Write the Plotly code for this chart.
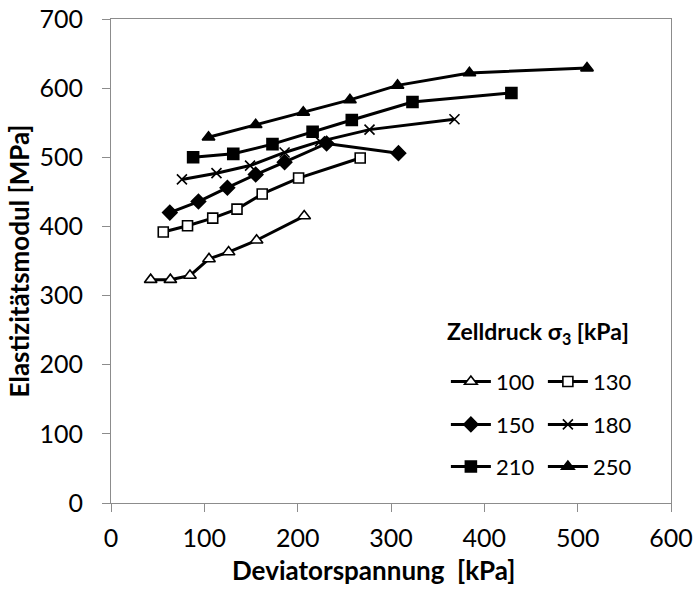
import plotly.graph_objects as go

# Deviator stress [kPa] and elastic modulus [MPa] per cell pressure
dev_100 = [42.5, 63.6, 84.6, 105, 126, 156, 207]
e_100 = [323, 323, 329, 353, 363, 380, 415]

dev_130 = [56, 82, 109, 135, 162, 201, 267]
e_130 = [392, 401, 412, 425, 447, 470, 499]

dev_150 = [63, 93.7, 124.7, 155, 186, 231, 308]
e_150 = [420, 436, 456, 475, 493, 520, 506]

dev_180 = [76, 113, 149, 186, 224, 277, 368]
e_180 = [468, 477, 488, 507, 523, 540, 555]

dev_210 = [88, 131, 173, 216, 258, 323, 429]
e_210 = [500, 505, 519, 537, 554, 580, 593]

dev_250 = [104.5, 155, 206, 256, 307, 384, 510]
e_250 = [529, 547, 565, 583, 604, 622, 629]

cell_pressures = ["100", "130", "150", "180", "210", "250"]
x_ticks = [0, 100, 200, 300, 400, 500, 600]
y_ticks = [0, 100, 200, 300, 400, 500, 600, 700]

FONT = "Lato"
AXIS_GREY = "#8c8c8c"
TICK_SIZE = 25
TITLE_SIZE = 26
LEG_SIZE = 22

styles = [
    (dev_100, e_100, "triangle-up", "white", 11, "legend"),
    (dev_130, e_130, "square", "white", 10, "legend"),
    (dev_150, e_150, "diamond", "black", 11, "legend2"),
    (dev_180, e_180, "x-thin", "black", 10, "legend2"),
    (dev_210, e_210, "square", "black", 11, "legend3"),
    (dev_250, e_250, "triangle-up", "black", 11, "legend3"),
]

fig = go.Figure()
for name, (xs, ys, sym, fill, size, leg) in zip(cell_pressures, styles):
    fig.add_trace(go.Scatter(
        x=xs, y=ys, name=name, mode="lines+markers",
        line=dict(color="black", width=3),
        marker=dict(symbol=sym, size=size, color=fill,
                    line=dict(color="black", width=1.6)),
        legend=leg,
    ))

# three one-row legends stacked into a 2-column key
legend_common = dict(
    orientation="h", xanchor="left", yanchor="middle",
    entrywidth=42, itemwidth=40, bgcolor="rgba(0,0,0,0)",
    font=dict(family=FONT, size=LEG_SIZE, color="black"),
    traceorder="normal", x=0.598,
)

fig.update_layout(
    width=696, height=600,
    margin=dict(l=111, r=25, t=19, b=97, autoexpand=False),
    paper_bgcolor="white", plot_bgcolor="white",
    font=dict(family=FONT, size=TICK_SIZE, color="black"),
    showlegend=True,
    legend=dict(**legend_common, y=0.2506),
    legend2=dict(**legend_common, y=0.162),
    legend3=dict(**legend_common, y=0.075),
    xaxis=dict(
        range=[0, 600], tickvals=x_ticks, ticks="outside", ticklen=8,
        ticklabelstandoff=5,
        tickcolor=AXIS_GREY, showgrid=False, zeroline=False, automargin=False,
        showline=True, linecolor=AXIS_GREY, linewidth=1, mirror=True,
        tickfont=dict(family=FONT, size=TICK_SIZE, color="black"),
    ),
    yaxis=dict(
        range=[0, 700], tickvals=y_ticks, ticks="outside", ticklen=8,
        ticklabelstandoff=14,
        tickcolor=AXIS_GREY, showgrid=False, zeroline=False, automargin=False,
        showline=True, linecolor=AXIS_GREY, linewidth=1, mirror=True,
        tickfont=dict(family=FONT, size=TICK_SIZE, color="black"),
        title=dict(text="<b>Elastizitätsmodul [MPa]</b>",
                   font=dict(family=FONT, size=TITLE_SIZE, color="black"),
                   standoff=2),
    ),
    annotations=[
        dict(text="<b>Deviatorspannung\u00a0\u00a0[kPa]</b>",
             xref="paper", yref="paper", x=0.468, y=-0.138,
             xanchor="center", yanchor="middle", showarrow=False,
             font=dict(family=FONT, size=TITLE_SIZE, color="black")),
        dict(text="<b>Zelldruck σ<sub>3</sub> [kPa]</b>",
             xref="paper", yref="paper", x=0.763, y=0.352,
             xanchor="center", yanchor="middle", showarrow=False,
             font=dict(family=FONT, size=23, color="black")),
    ],
)

fig.write_html("out.html")
